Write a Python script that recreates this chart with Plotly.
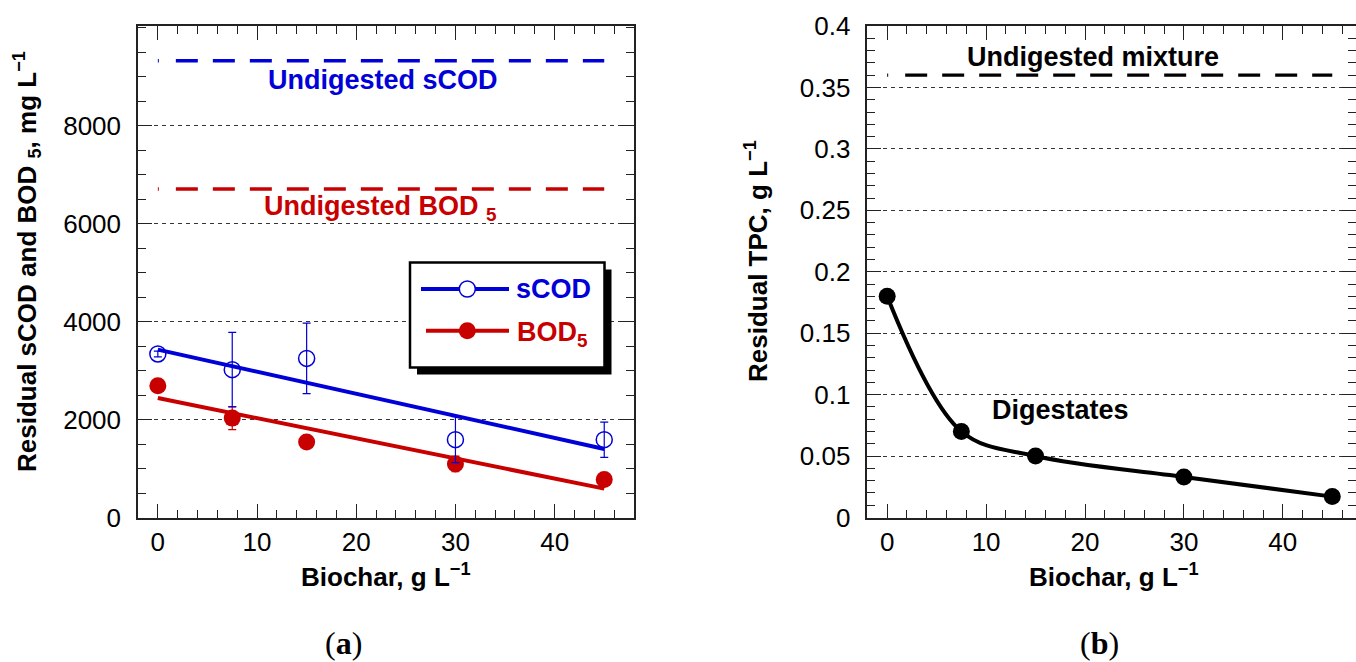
import plotly.graph_objects as go

W, H = 1356, 662

# ---------------- data ----------------
biochar = [0, 7.5, 15, 30, 45]
scod = [3340, 3020, 3250, 1590, 1590]
scod_err = [60, 760, 720, 470, 360]
bod5 = [2690, 2030, 1540, 1095, 775]
bod5_err = [60, 235, 60, 160, 60]
fit_x = [0, 45]
scod_fit = [3430, 1400]
bod5_fit = [2440, 590]
undig_x = [0, 45]
undig_scod = [9330, 9330]
undig_bod5 = [6710, 6710]

tpc = [0.180, 0.070, 0.050, 0.033, 0.017]
undig_tpc = [0.36, 0.36]

a_yticks = [0, 2000, 4000, 6000, 8000]
b_yticks = [0, 0.05, 0.1, 0.15, 0.2, 0.25, 0.3, 0.35, 0.4]
b_yticktext = ["0", "0.05", "0.1", "0.15", "0.2", "0.25", "0.3", "0.35", "0.4"]
x_ticks = [0, 10, 20, 30, 40]

BLUE = "#0000d8"
RED = "#c80000"
FONT = "Liberation Sans, Arial, sans-serif"

# dash style: small dot at start, then long dashes, small dot at end
_parts = ["1px", "17px"]
for i in range(12):
    _parts += ["22px", "15px" if i < 11 else "3px"]
_parts += ["1px", "60px"]
DASH = ",".join(_parts)

def px(x):
    return x / W

def py(y):
    return 1 - y / H

fig = go.Figure()

# ---- panel (a) ----
fig.add_trace(go.Scatter(x=undig_x, y=undig_scod, mode="lines", xaxis="x", yaxis="y",
                         line=dict(color=BLUE, width=3.7, dash=DASH), showlegend=False))
fig.add_trace(go.Scatter(x=undig_x, y=undig_bod5, mode="lines", xaxis="x", yaxis="y",
                         line=dict(color=RED, width=3.7, dash=DASH), showlegend=False))
fig.add_trace(go.Scatter(x=fit_x, y=scod_fit, mode="lines", xaxis="x", yaxis="y",
                         line=dict(color=BLUE, width=4), showlegend=False))
fig.add_trace(go.Scatter(x=fit_x, y=bod5_fit, mode="lines", xaxis="x", yaxis="y",
                         line=dict(color=RED, width=4), showlegend=False))
fig.add_trace(go.Scatter(x=biochar, y=bod5, mode="markers", xaxis="x", yaxis="y",
                         marker=dict(symbol="circle", size=17, color=RED),
                         error_y=dict(type="data", array=bod5_err, color=RED, thickness=1.2, width=4),
                         showlegend=False))
fig.add_trace(go.Scatter(x=biochar, y=scod, mode="markers", xaxis="x", yaxis="y",
                         marker=dict(symbol="circle-open", size=16, color=BLUE, line=dict(width=1.5)),
                         error_y=dict(type="data", array=scod_err, color=BLUE, thickness=1.2, width=4),
                         showlegend=False))

# ---- panel (b) ----
fig.add_trace(go.Scatter(x=undig_x, y=undig_tpc, mode="lines", xaxis="x2", yaxis="y2",
                         line=dict(color="black", width=3.4, dash=DASH), showlegend=False))
fig.add_trace(go.Scatter(x=biochar, y=tpc, mode="lines+markers", xaxis="x2", yaxis="y2",
                         line=dict(color="black", width=4, shape="spline", smoothing=1.0),
                         marker=dict(symbol="circle", size=17, color="black"),
                         showlegend=False))

axis_common = dict(
    showline=True, linecolor="#222", linewidth=1.5, mirror="allticks",
    ticks="inside", ticklen=14, tickwidth=1, tickcolor="#222",
    tickfont=dict(family=FONT, size=26, color="black"),
    zeroline=False, automargin=False,
)

Y_BOT, Y_TOP = 517.5, 26

fig.update_layout(
    width=W, height=H, autosize=False,
    margin=dict(l=0, r=0, t=0, b=0, pad=0, autoexpand=False),
    paper_bgcolor="white", plot_bgcolor="white",
    showlegend=False,
    xaxis=dict(domain=[px(138), px(634)], range=[-2, 48], tickvals=x_ticks,
               showgrid=False, anchor="y", ticklabelstandoff=1,
               minor=dict(dtick=2, tick0=0, ticks="inside", ticklen=8, tickcolor="#222", showgrid=False),
               **axis_common),
    yaxis=dict(domain=[py(Y_BOT), py(Y_TOP)], range=[0, 10040], tickvals=a_yticks,
               showgrid=True, gridcolor="#333", gridwidth=1, griddash="4px,4px",
               anchor="x", ticklabelstandoff=10,
               minor=dict(dtick=500, tick0=0, ticks="inside", ticklen=8, tickcolor="#222", showgrid=False),
               **axis_common),
    xaxis2=dict(domain=[px(867.4), 1.0], range=[-2, 47.4], tickvals=x_ticks,
                showgrid=False, anchor="y2", ticklabelstandoff=1,
                minor=dict(dtick=2, tick0=0, ticks="inside", ticklen=8, tickcolor="#222", showgrid=False),
                **axis_common),
    yaxis2=dict(domain=[py(Y_BOT), py(Y_TOP)], range=[0, 0.4], tickvals=b_yticks, ticktext=b_yticktext,
                showgrid=True, gridcolor="#333", gridwidth=1, griddash="4px,4px",
                anchor="x2", ticklabelstandoff=10,
                minor=dict(dtick=0.01, tick0=0, ticks="inside", ticklen=8, tickcolor="#222", showgrid=False),
                **axis_common),
)

bold = lambda s: "<b>" + s + "</b>"
ann = []
# in-plot labels (a)
ann.append(dict(x=22.66, y=8940, xref="x", yref="y", text=bold("Undigested sCOD"), showarrow=False,
                font=dict(family=FONT, size=27, color=BLUE), xanchor="center", yanchor="middle"))
ann.append(dict(x=22.4, y=6330, xref="x", yref="y", text=bold("Undigested BOD <sub>5</sub>"), showarrow=False,
                font=dict(family=FONT, size=27, color=RED), xanchor="center", yanchor="middle"))
# legend texts
ann.append(dict(x=px(514), y=py(289), xref="paper", yref="paper", text=bold("sCOD"), showarrow=False,
                font=dict(family=FONT, size=27, color=BLUE), xanchor="left", yanchor="middle"))
ann.append(dict(x=px(515), y=py(334), xref="paper", yref="paper", text=bold("BOD<sub>5</sub>"), showarrow=False,
                font=dict(family=FONT, size=27, color=RED), xanchor="left", yanchor="middle"))
# axis titles (a)
ann.append(dict(x=px(27), y=py(262), xref="paper", yref="paper",
                text=bold("Residual sCOD and BOD <sub>5</sub>, mg L<sup>−1</sup>"), showarrow=False,
                textangle=-90, font=dict(family=FONT, size=26, color="black"),
                xanchor="center", yanchor="middle"))
ann.append(dict(x=px(386), y=py(575), xref="paper", yref="paper",
                text=bold("Biochar, g L<sup>−1</sup>"), showarrow=False,
                font=dict(family=FONT, size=26, color="black"), xanchor="center", yanchor="middle"))
# in-plot labels (b)
ann.append(dict(x=20.8, y=0.3744, xref="x2", yref="y2", text=bold("Undigested mixture"), showarrow=False,
                font=dict(family=FONT, size=27, color="black"), xanchor="center", yanchor="middle"))
ann.append(dict(x=17.5, y=0.0873, xref="x2", yref="y2", text=bold("Digestates"), showarrow=False,
                font=dict(family=FONT, size=27, color="black"), xanchor="center", yanchor="middle"))
# axis titles (b)
ann.append(dict(x=px(756), y=py(261), xref="paper", yref="paper",
                text=bold("Residual TPC, g L<sup>−1</sup>"), showarrow=False,
                textangle=-90, font=dict(family=FONT, size=26, color="black"),
                xanchor="center", yanchor="middle"))
ann.append(dict(x=px(1114), y=py(575), xref="paper", yref="paper",
                text=bold("Biochar, g L<sup>−1</sup>"), showarrow=False,
                font=dict(family=FONT, size=26, color="black"), xanchor="center", yanchor="middle"))
# panel labels
ann.append(dict(x=px(343), y=py(643), xref="paper", yref="paper", text="(<b>a</b>)", showarrow=False,
                font=dict(family="Liberation Serif, Times New Roman, serif", size=32, color="black"),
                xanchor="center", yanchor="middle"))
ann.append(dict(x=px(1099), y=py(643), xref="paper", yref="paper", text="(<b>b</b>)", showarrow=False,
                font=dict(family="Liberation Serif, Times New Roman, serif", size=32, color="black"),
                xanchor="center", yanchor="middle"))
fig.update_layout(annotations=ann)

# legend box (a) with drop shadow
shapes = []
shapes.append(dict(type="rect", xref="paper", yref="paper",
                   x0=px(417), x1=px(611.5), y0=py(374.5), y1=py(269.5),
                   fillcolor="black", line=dict(width=0), layer="above"))
shapes.append(dict(type="rect", xref="paper", yref="paper",
                   x0=px(410), x1=px(604.5), y0=py(367.5), y1=py(262.5),
                   fillcolor="white", line=dict(color="black", width=2.5), layer="above"))
shapes.append(dict(type="line", xref="paper", yref="paper", x0=px(421), x1=px(509), y0=py(289), y1=py(289),
                   line=dict(color=BLUE, width=4), layer="above"))
shapes.append(dict(type="circle", xref="paper", yref="paper", x0=px(459.3), x1=px(475.3),
                   y0=py(297), y1=py(281), fillcolor="white", line=dict(color=BLUE, width=1.5), layer="above"))
shapes.append(dict(type="line", xref="paper", yref="paper", x0=px(426), x1=px(509), y0=py(330.7), y1=py(330.7),
                   line=dict(color=RED, width=4), layer="above"))
shapes.append(dict(type="circle", xref="paper", yref="paper", x0=px(458.8), x1=px(475.8),
                   y0=py(339.2), y1=py(322.2), fillcolor=RED, line=dict(color=RED, width=0), layer="above"))
fig.update_layout(shapes=shapes)

fig.write_html(
    "out.html",
    config={"displayModeBar": False},
    post_script="document.body.style.margin='0';document.body.style.overflow='hidden';",
)
